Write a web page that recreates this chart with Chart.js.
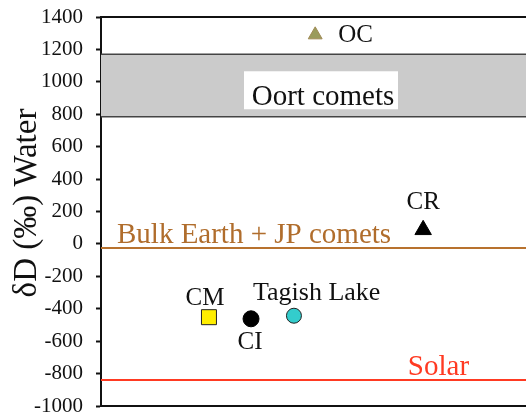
<!DOCTYPE html>
<html>
<head>
<meta charset="utf-8">
<script src="https://cdn.jsdelivr.net/npm/chart.js@4"></script>
<style>
  html, body { margin: 0; padding: 0; background: #fff; }
  #wrap { width: 526px; height: 415px; }
</style>
</head>
<body>
<div id="wrap"><canvas id="c"></canvas></div>
<script>
// groups (x position is just a slot, y is dD in permil)
const names = ['CM', 'CI', 'Tagish Lake', 'OC', 'CR']
const xSlots = [2.54, 3.53, 4.54, 5.04, 7.58]
const dD = [-452, -462, -443, 1290, 87]

// reference ranges
const bulkEarth = -25
const solar = -840
const oortRange = [785, 1170]

const yTicks = [-1000, -800, -600, -400, -200, 0, 200, 400, 600, 800, 1000, 1200, 1400]

const serif = "'Liberation Serif', 'Times New Roman', serif"

const styles = {
  'CM': { pointStyle: 'rect', radius: 10.6, bg: '#ffee00', border: '#222' },
  'CI': { pointStyle: 'circle', radius: 8, bg: '#000', border: '#000' },
  'Tagish Lake': { pointStyle: 'circle', radius: 7.5, bg: '#33cccc', border: '#222' },
  'OC': { pointStyle: 'triangle', radius: 8, bg: '#9a9b5c', border: '#a08a55' },
  'CR': { pointStyle: 'triangle', radius: 9.5, bg: '#000', border: '#000' },
}

const pointSets = names.map((n, i) => ({
  label: n,
  data: [{ x: xSlots[i], y: dD[i] }],
  pointStyle: styles[n].pointStyle,
  pointRadius: styles[n].radius,
  pointBackgroundColor: styles[n].bg,
  pointBorderColor: styles[n].border,
  pointBorderWidth: 1,
  showLine: false,
}))

const lineSets = [
  { label: 'Bulk Earth + JP comets', data: [{ x: 0, y: bulkEarth }, { x: 10, y: bulkEarth }], borderColor: '#b8722e' },
  { label: 'Solar', data: [{ x: 0, y: solar }, { x: 10, y: solar }], borderColor: '#ff3a22' },
].map(d => ({ ...d, showLine: true, borderWidth: 2, pointRadius: 0 }))

// text labels: [text, x value, y value, dx, dy (to baseline), size, color, align]
const labels = [
  ['OC', 5.04, 1290, 23, 7, 25, '#111', 'left'],
  ['CR', 7.58, 87, 0, -21, 25, '#111', 'center'],
  ['CM', 2.54, -452, -4, -12, 25, '#111', 'center'],
  ['CI', 3.53, -462, -1, 30, 25, '#111', 'center'],
  ['Tagish Lake', 4.54, -443, -41, -16, 26, '#111', 'left'],
  ['Bulk Earth + JP comets', 0.376, bulkEarth, 0, -5, 29, '#b06d2c', 'left'],
  ['Solar', 7.22, solar, 0, -5, 29, '#ff3a22', 'left'],
]

const decor = {
  id: 'decor',
  beforeDatasetsDraw(chart) {
    const { ctx, chartArea: a, scales: { y } } = chart
    const top = y.getPixelForValue(oortRange[1])
    const bot = y.getPixelForValue(oortRange[0])
    ctx.save()
    ctx.fillStyle = '#cbcbcb'
    ctx.fillRect(a.left, top, a.right - a.left, bot - top)
    ctx.strokeStyle = '#444'
    ctx.lineWidth = 1.5
    ctx.beginPath()
    ctx.moveTo(a.left, top); ctx.lineTo(a.right, top)
    ctx.moveTo(a.left, bot); ctx.lineTo(a.right, bot)
    ctx.stroke()
    // label box
    const cx = 323
    ctx.fillStyle = '#fff'
    ctx.fillRect(244, top + 17, 154, 38)
    ctx.fillStyle = '#111'
    ctx.font = '29px ' + serif
    ctx.textAlign = 'center'
    ctx.textBaseline = 'alphabetic'
    ctx.fillText('Oort comets', cx, top + 51)
    // top border
    ctx.strokeStyle = '#111'
    ctx.lineWidth = 2
    ctx.beginPath()
    ctx.moveTo(a.left, a.top); ctx.lineTo(a.right, a.top)
    ctx.stroke()
    // y title
    ctx.save()
    ctx.translate(27, 203)
    ctx.rotate(-Math.PI / 2)
    ctx.font = '33px ' + serif
    ctx.textAlign = 'center'
    ctx.textBaseline = 'middle'
    ctx.fillText('δD (‰) Water', 0, 0)
    ctx.restore()
    ctx.restore()
  },
  afterDatasetsDraw(chart) {
    const { ctx, scales: { x, y } } = chart
    ctx.save()
    ctx.textBaseline = 'alphabetic'
    labels.forEach(([t, xv, yv, dx, dy, size, col, al]) => {
      ctx.font = size + 'px ' + serif
      ctx.fillStyle = col
      ctx.textAlign = al
      ctx.fillText(t, x.getPixelForValue(xv) + dx, y.getPixelForValue(yv) + dy)
    })
    ctx.restore()
  },
}

new Chart(document.getElementById('c'), {
  type: 'scatter',
  data: { datasets: [...lineSets, ...pointSets] },
  options: {
    responsive: true,
    maintainAspectRatio: false,
    animation: false,
    layout: { autoPadding: false, padding: { top: 17, right: 0, bottom: 9, left: 0 } },
    plugins: { legend: { display: false }, tooltip: { enabled: false } },
    scales: {
      x: {
        min: 0, max: 10,
        ticks: { display: false },
        grid: { display: false, drawTicks: false },
        border: { display: true, color: '#111', width: 2 },
      },
      y: {
        min: -1000, max: 1400,
        afterBuildTicks: s => { s.ticks = yTicks.map(v => ({ value: v })) },
        afterFit: s => { s.width = 101; s.paddingTop = 0; s.paddingBottom = 0 },
        ticks: { color: '#111', font: { family: serif, size: 21 }, padding: 13, callback: v => String(v) },
        grid: { drawOnChartArea: false, tickLength: 5, color: '#111', tickWidth: 2 },
        border: { display: true, color: '#111', width: 2 },
      },
    },
  },
  plugins: [decor],
})
</script>
</body>
</html>
